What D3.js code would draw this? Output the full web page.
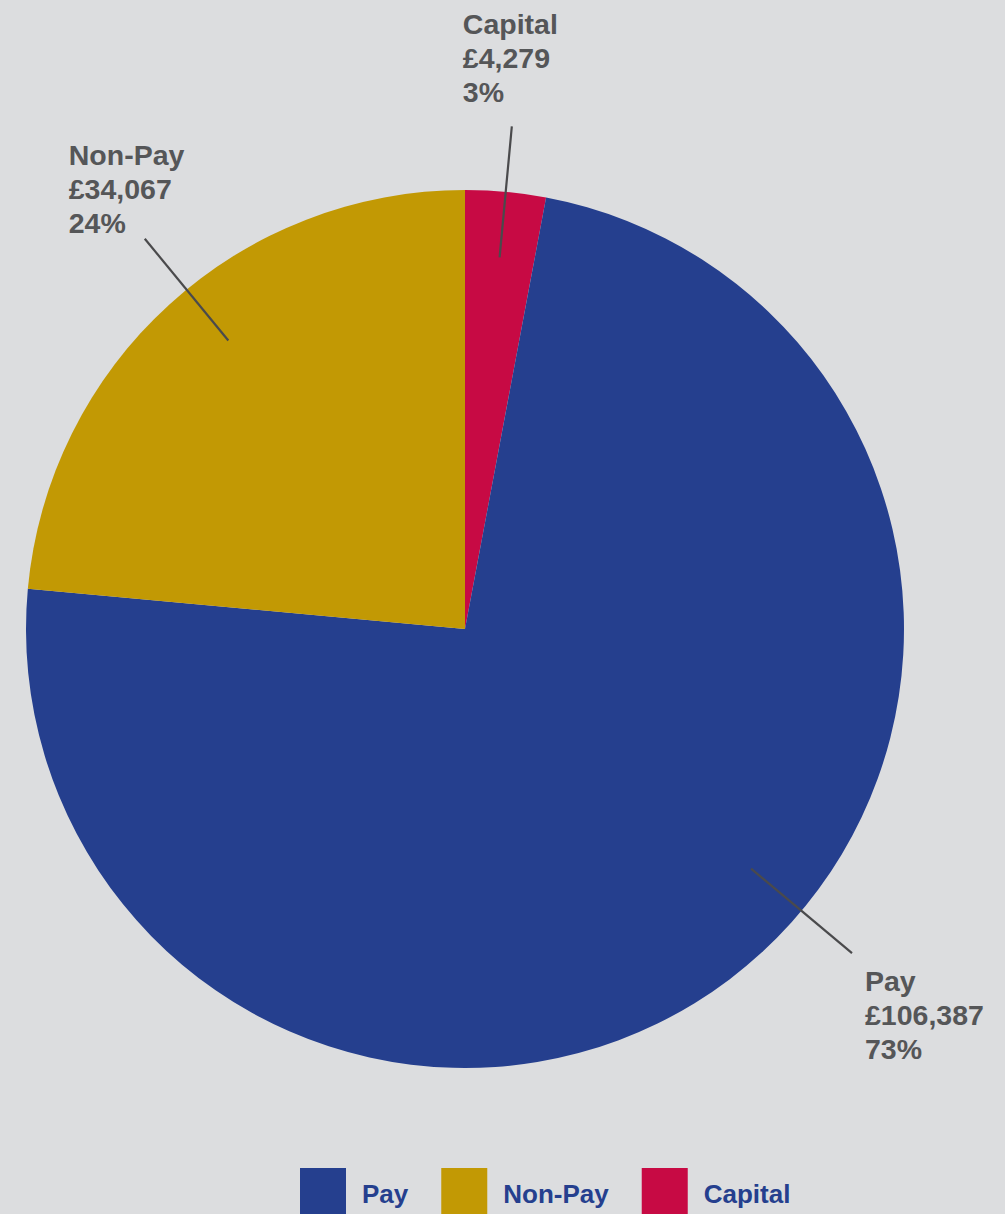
<!DOCTYPE html>
<html>
<head>
<meta charset="utf-8">
<script src="https://cdn.jsdelivr.net/npm/d3@7"></script>
<style>
  html, body { margin: 0; padding: 0; background: #dcdddf; }
  svg { display: block; font-family: "Liberation Sans", Arial, sans-serif; font-weight: bold; }
</style>
</head>
<body>
<script>
//Chart data
var categories = ["Capital", "Pay", "Non-Pay"];
var amounts = [4279, 106387, 34067];
var percentLabels = ["3%", "73%", "24%"];
var legendOrder = ["Pay", "Non-Pay", "Capital"];

//Width and height
var width = 1005;
var height = 1214;
var cx = 465, cy = 629, radius = 439;

var color = d3.scaleOrdinal()
    .domain(["Pay", "Non-Pay", "Capital"])
    .range(["#253f8e", "#c29904", "#c70a44"]);

//label tweaks (degrees nudge of the leader line, text offset from its outer end)
var labelNudge = { "Capital": 0, "Pay": -13, "Non-Pay": 3 };
var labelOffset = {
    "Capital": { dx: -49, dy: -92 },
    "Pay": { dx: 13, dy: 38 },
    "Non-Pay": { dx: -76, dy: -74 }
};

var fmt = d3.format(",");

var data = categories.map(function(c, i) {
    return { name: c, value: amounts[i], pct: percentLabels[i] };
});

var svg = d3.select("body")
    .append("svg")
    .attr("width", width)
    .attr("height", height);

var pie = d3.pie()
    .sort(null)
    .value(function(d) { return d.value; });

var arc = d3.arc()
    .innerRadius(0)
    .outerRadius(radius);

var g = svg.append("g")
    .attr("transform", "translate(" + cx + "," + cy + ")");

var arcs = pie(data);

g.selectAll("path")
    .data(arcs)
    .enter()
    .append("path")
    .attr("d", arc)
    .attr("fill", function(d) { return color(d.data.name); });

//leader lines
function pointAt(d, r) {
    var a = (d.startAngle + d.endAngle) / 2 + labelNudge[d.data.name] * Math.PI / 180;
    return [Math.sin(a) * r, -Math.cos(a) * r];
}

g.selectAll("line.leader")
    .data(arcs)
    .enter()
    .append("line")
    .attr("class", "leader")
    .attr("x1", function(d) { return pointAt(d, radius * 0.85)[0]; })
    .attr("y1", function(d) { return pointAt(d, radius * 0.85)[1]; })
    .attr("x2", function(d) { return pointAt(d, radius * 1.15)[0]; })
    .attr("y2", function(d) { return pointAt(d, radius * 1.15)[1]; })
    .attr("stroke", "#4a4a4c")
    .attr("stroke-width", 2.2);

var labels = g.selectAll("text.label")
    .data(arcs)
    .enter()
    .append("text")
    .attr("class", "label")
    .attr("fill", "#555658")
    .attr("font-size", 28.5)
    .attr("transform", function(d) {
        var p = pointAt(d, radius * 1.15);
        var o = labelOffset[d.data.name];
        return "translate(" + (p[0] + o.dx) + "," + (p[1] + o.dy) + ")";
    });

labels.each(function(d) {
    var t = d3.select(this);
    [d.data.name, "£" + fmt(d.data.value), d.data.pct].forEach(function(s, i) {
        t.append("tspan")
            .attr("x", 0)
            .attr("y", i * 34)
            .text(s);
    });
});

//legend
var legend = svg.append("g")
    .attr("class", "legend")
    .attr("transform", "translate(300,1168)");

var lx = 0;
legendOrder.forEach(function(name) {
    var item = legend.append("g").attr("transform", "translate(" + lx + ",0)");
    item.append("rect")
        .attr("width", 46)
        .attr("height", 46)
        .attr("fill", color(name));
    var txt = item.append("text")
        .attr("x", 62)
        .attr("y", 35)
        .attr("fill", "#253f8e")
        .attr("font-size", 26)
        .text(name);
    lx += 62 + txt.node().getComputedTextLength() + 33;
});
</script>
</body>
</html>
